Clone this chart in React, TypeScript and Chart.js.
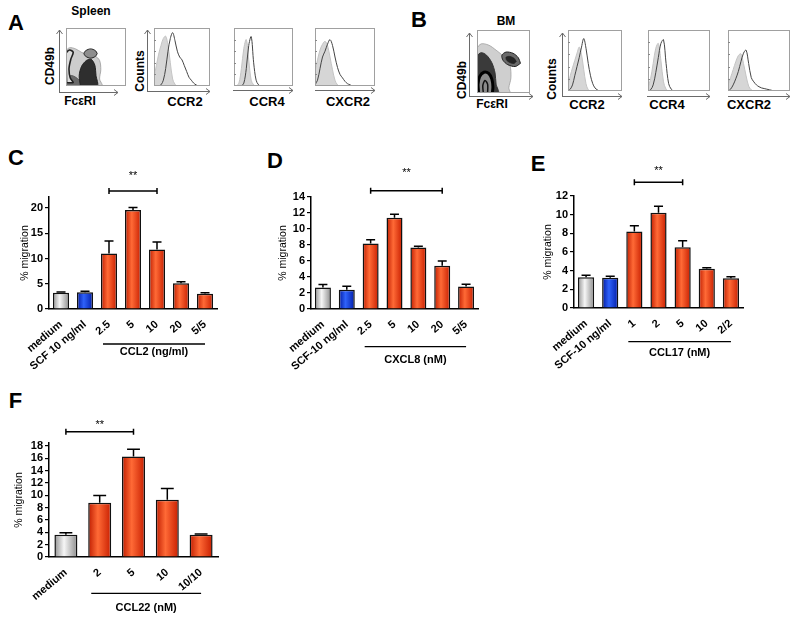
import React, { useEffect, useRef } from 'react';
import { Chart, registerables } from 'chart.js';

Chart.register(...registerables);

const FONT = '"Liberation Sans", Arial, Helvetica, sans-serif';
Chart.defaults.font.family = FONT;
Chart.defaults.color = '#000';

// ---------------- Panel C ----------------
const cLabels = ['medium', 'SCF 10 ng/ml', '2.5', '5', '10', '20', '5/5'];
const cValues = [3.2, 3.3, 11.0, 19.6, 11.8, 5.1, 3.0];
const cErrors = [0.15, 0.2, 2.5, 0.5, 1.5, 0.3, 0.2];
const cKinds = ['grey', 'blue', 'red', 'red', 'red', 'red', 'red'];
const cGroup = 'CCL2 (ng/ml)';

// ---------------- Panel D ----------------
const dLabels = ['medium', 'SCF-10 ng/ml', '2.5', '5', '10', '20', '5/5'];
const dValues = [2.7, 2.4, 8.2, 11.4, 7.7, 5.4, 2.8];
const dErrors = [0.35, 0.45, 0.45, 0.45, 0.15, 0.6, 0.3];
const dKinds = ['grey', 'blue', 'red', 'red', 'red', 'red', 'red'];
const dGroup = 'CXCL8 (nM)';

// ---------------- Panel E ----------------
const eLabels = ['medium', 'SCF-10 ng/ml', '1', '2', '5', '10', '2/2'];
const eValues = [3.3, 3.25, 8.2, 10.2, 6.5, 4.2, 3.2];
const eErrors = [0.2, 0.15, 0.6, 0.7, 0.7, 0.1, 0.15];
const eKinds = ['grey', 'blue', 'red', 'red', 'red', 'red', 'red'];
const eGroup = 'CCL17 (nM)';

// ---------------- Panel F ----------------
const fLabels = ['medium', '2', '5', '10', '10/10'];
const fValues = [3.6, 8.8, 16.3, 9.3, 3.6];
const fErrors = [0.35, 1.2, 1.2, 1.8, 0.15];
const fKinds = ['grey', 'red', 'red', 'red', 'red'];
const fGroup = 'CCL22 (nM)';

const yTitle = '% migration';

// ---------------- Flow histograms (25 bins, fraction of max) ----------------
const aCCR2Iso = [0.15, 0.35, 0.55, 0.7, 0.82, 0.86, 0.7, 0.4, 0.12, 0.03, 0, 0, 0, 0, 0, 0, 0, 0, 0, 0, 0, 0, 0, 0, 0];
const aCCR2Stain = [0, 0, 0, 0.02, 0.1, 0.3, 0.6, 0.82, 0.92, 0.78, 0.6, 0.5, 0.45, 0.35, 0.25, 0.15, 0.1, 0.05, 0.02, 0, 0, 0, 0, 0, 0];
const aCCR4Iso = [0, 0, 0.05, 0.3, 0.65, 0.8, 0.45, 0.1, 0.02, 0, 0, 0, 0, 0, 0, 0, 0, 0, 0, 0, 0, 0, 0, 0, 0];
const aCCR4Stain = [0, 0, 0, 0, 0.05, 0.3, 0.7, 0.85, 0.4, 0.1, 0.02, 0, 0, 0, 0, 0, 0, 0, 0, 0, 0, 0, 0, 0, 0];
const aCXCR2Iso = [0.25, 0.45, 0.62, 0.72, 0.77, 0.7, 0.5, 0.28, 0.1, 0.02, 0, 0, 0, 0, 0, 0, 0, 0, 0, 0, 0, 0, 0, 0, 0];
const aCXCR2Stain = [0.02, 0.1, 0.3, 0.5, 0.6, 0.72, 0.8, 0.7, 0.5, 0.32, 0.2, 0.14, 0.08, 0.04, 0.02, 0, 0, 0, 0, 0, 0, 0, 0, 0, 0];
const bCCR2Iso = [0.1, 0.25, 0.38, 0.5, 0.62, 0.72, 0.6, 0.35, 0.12, 0.02, 0, 0, 0, 0, 0, 0, 0, 0, 0, 0, 0, 0, 0, 0, 0];
const bCCR2Stain = [0, 0.03, 0.1, 0.25, 0.4, 0.55, 0.72, 0.86, 0.7, 0.45, 0.25, 0.12, 0.05, 0.02, 0, 0, 0, 0, 0, 0, 0, 0, 0, 0, 0];
const bCCR4Iso = [0.05, 0.2, 0.45, 0.7, 0.78, 0.5, 0.15, 0.03, 0, 0, 0, 0, 0, 0, 0, 0, 0, 0, 0, 0, 0, 0, 0, 0, 0];
const bCCR4Stain = [0, 0.02, 0.1, 0.3, 0.55, 0.78, 0.84, 0.45, 0.12, 0.03, 0, 0, 0, 0, 0, 0, 0, 0, 0, 0, 0, 0, 0, 0, 0];
const bCXCR2Iso = [0.1, 0.22, 0.35, 0.48, 0.58, 0.61, 0.45, 0.25, 0.08, 0.02, 0, 0, 0, 0, 0, 0, 0, 0, 0, 0, 0, 0, 0, 0, 0];
const bCXCR2Stain = [0, 0.03, 0.1, 0.2, 0.32, 0.48, 0.62, 0.67, 0.45, 0.22, 0.15, 0.1, 0.07, 0.05, 0.04, 0.03, 0.02, 0.01, 0, 0, 0, 0, 0, 0, 0];

// ---------------- Flow density contours (x, y in % of plot) ----------------
const spleenCloud = [[0, 0], [0, 60], [6, 66], [16, 64], [26, 58], [36, 54], [48, 52], [56, 44], [58, 28], [56, 12], [60, 0], [0, 0]];
const spleenLow = [[0, 0], [0, 14], [10, 18], [22, 10], [24, 0], [0, 0]];
const spleenEdge = [[1, 6], [0, 56], [6, 62], [12, 58], [8, 46], [5, 30], [7, 14], [12, 6], [1, 6]];
const spleenBand = [[24, 0], [22, 18], [26, 34], [34, 44], [42, 46], [48, 36], [50, 18], [52, 0], [24, 0]];
const spleenCluster = [[52, 56], [49, 61], [41, 64], [33, 61], [30, 56], [33, 51], [41, 48], [49, 51], [52, 56]];
const bmCloud = [[0, 0], [0, 70], [8, 78], [22, 76], [36, 68], [50, 58], [62, 44], [64, 24], [60, 8], [62, 0], [0, 0]];
const bmDark = [[0, 0], [0, 58], [8, 64], [18, 60], [28, 48], [34, 32], [36, 14], [40, 0], [0, 0]];
const bmRing = [[3, 0], [2, 14], [5, 26], [13, 33], [22, 31], [28, 22], [30, 10], [29, 0]];
const bmCore = [[12, 0], [11, 12], [15, 20], [20, 14], [20, 0]];
const bmCluster = [[82, 47], [78, 56], [68, 63], [55, 65], [47, 60], [49, 52], [58, 45], [72, 42], [82, 47]];
const bmClusterCore = [[74, 50], [70, 55], [62, 58], [55, 57], [56, 52], [63, 48], [70, 47], [74, 50]];

// ---------------- Text labels for flow panels ----------------
const flowText = [
  { t: 'Spleen', x: 91, y: 11, s: 12 },
  { t: 'CD49b', x: 50, y: 66, s: 12, r: true },
  { t: 'FcεRI', x: 80, y: 101, s: 12 },
  { t: 'Counts', x: 140, y: 71, s: 12, r: true },
  { t: 'CCR2', x: 185, y: 101, s: 13 },
  { t: 'CCR4', x: 267, y: 101, s: 13 },
  { t: 'CXCR2', x: 348, y: 101, s: 13 },
  { t: 'BM', x: 506, y: 21, s: 12 },
  { t: 'CD49b', x: 462, y: 80, s: 12, r: true },
  { t: 'FcεRI', x: 492, y: 104, s: 12 },
  { t: 'Counts', x: 552, y: 79, s: 12, r: true },
  { t: 'CCR2', x: 587, y: 104, s: 13 },
  { t: 'CCR4', x: 667, y: 104, s: 13 },
  { t: 'CXCR2', x: 749, y: 104, s: 13 },
];
const panelLetters = [
  { t: 'A', x: 16, y: 22.5 },
  { t: 'B', x: 419, y: 20 },
  { t: 'C', x: 16, y: 158 },
  { t: 'D', x: 275, y: 161 },
  { t: 'E', x: 538, y: 164 },
  { t: 'F', x: 15.5, y: 400.5 },
];

const GRADS: Record<string, string[]> = {
  grey: ['#929292', '#f6f6f6', '#8c8c8c'],
  blue: ['#0018a0', '#2f62fa', '#001ca8'],
  red: ['#bf1c00', '#ff6a36', '#c81e00'],
};

function barFill(kinds: string[], pct: number) {
  return (c: any) => {
    const kind = kinds[c.dataIndex] || 'red';
    const stops = GRADS[kind];
    const chart = c.chart;
    const xs = chart.scales && chart.scales.x;
    if (c.dataIndex === undefined || !chart.chartArea || !xs) return stops[1];
    const cx = xs.getPixelForValue(c.dataIndex);
    const half = (xs.width / chart.data.labels.length) * pct * 0.5;
    const g = chart.ctx.createLinearGradient(cx - half, 0, cx + half, 0);
    g.addColorStop(0, stops[0]);
    g.addColorStop(0.42, stops[1]);
    g.addColorStop(1, stops[2]);
    return g;
  };
}

const errorBarPlugin = {
  id: 'errorBars',
  afterDatasetsDraw(chart: any, _a: any, o: any) {
    const meta = chart.getDatasetMeta(0);
    const ys = chart.scales.y;
    const vals = chart.data.datasets[0].data;
    const ctx = chart.ctx;
    ctx.save();
    ctx.strokeStyle = '#000';
    ctx.lineWidth = 1.5;
    meta.data.forEach((bar: any, i: number) => {
      const top = ys.getPixelForValue(vals[i] + o.errors[i]);
      const cap = bar.width * 0.28;
      ctx.beginPath();
      ctx.moveTo(bar.x, bar.y);
      ctx.lineTo(bar.x, top);
      ctx.moveTo(bar.x - cap, top);
      ctx.lineTo(bar.x + cap, top);
      ctx.stroke();
    });
    ctx.restore();
  },
};

const annotPlugin = {
  id: 'annot',
  afterDraw(chart: any, _a: any, o: any) {
    const ctx = chart.ctx;
    const xs = chart.scales.x;
    const cw = xs.width / chart.data.labels.length;
    ctx.save();
    ctx.strokeStyle = '#000';
    ctx.fillStyle = '#000';
    ctx.lineWidth = 1.5;
    const x1 = xs.getPixelForValue(o.sigFrom);
    const x2 = xs.getPixelForValue(o.sigTo);
    const sy = o.sigY - o.oy;
    ctx.beginPath();
    ctx.moveTo(x1, sy);
    ctx.lineTo(x2, sy);
    ctx.moveTo(x1, sy - 3);
    ctx.lineTo(x1, sy + 3);
    ctx.moveTo(x2, sy - 3);
    ctx.lineTo(x2, sy + 3);
    ctx.stroke();
    ctx.font = `11px ${FONT}`;
    ctx.textAlign = 'center';
    ctx.textBaseline = 'alphabetic';
    ctx.fillText('**', (x1 + x2) / 2, o.starsY - o.oy + 6);
    const g1 = xs.getPixelForValue(o.groupFrom) - 0.25 * cw;
    const g2 = xs.getPixelForValue(o.groupTo);
    const gy = o.groupY - o.oy;
    ctx.lineWidth = 1.3;
    ctx.beginPath();
    ctx.moveTo(g1, gy);
    ctx.lineTo(g2, gy);
    ctx.stroke();
    ctx.font = `bold 11px ${FONT}`;
    ctx.textBaseline = 'middle';
    ctx.fillText(o.groupText, (g1 + g2) / 2, o.groupLabelY - o.oy);
    ctx.restore();
  },
};

type Box = { left: number; top: number; width: number; height: number };
type Area = { left: number; right: number; top: number; bottom: number };

function BarPanel(p: {
  labels: string[]; values: number[]; errors: number[]; kinds: string[];
  yMax: number; yStep: number; box: Box; area: Area; titleX: number; pct: number;
  sig: { from: number; to: number; y: number; starsY: number };
  group: { from: number; to: number; y: number; labelY: number; text: string };
}) {
  const ref = useRef<HTMLCanvasElement>(null);
  useEffect(() => {
    const { box, area } = p;
    const titleSize = 10.5;
    const half = (titleSize * 1.2) / 2;
    const pl = p.titleX - box.left - half;
    const yWidth = area.left - box.left - pl;
    const xHeight = box.top + box.height - area.bottom;
    const chart = new Chart(ref.current as HTMLCanvasElement, {
      type: 'bar',
      data: {
        labels: p.labels,
        datasets: [{
          data: p.values,
          backgroundColor: barFill(p.kinds, p.pct) as any,
          borderColor: '#111',
          borderWidth: 1.5,
          barPercentage: p.pct,
          categoryPercentage: 1,
        }],
      },
      options: {
        animation: false,
        responsive: false,
        maintainAspectRatio: false,
        layout: { padding: { left: pl, right: box.left + box.width - area.right, top: area.top - box.top, bottom: 0 } },
        plugins: {
          legend: { display: false },
          tooltip: { enabled: false },
          errorBars: { errors: p.errors },
          annot: {
            oy: box.top,
            sigFrom: p.sig.from, sigTo: p.sig.to, sigY: p.sig.y, starsY: p.sig.starsY,
            groupFrom: p.group.from, groupTo: p.group.to, groupY: p.group.y, groupLabelY: p.group.labelY, groupText: p.group.text,
          },
        } as any,
        scales: {
          x: {
            grid: { display: false },
            border: { color: '#000', width: 1.5 },
            ticks: { color: '#000', font: { size: 11, weight: 'bold' }, minRotation: 40, maxRotation: 40, autoSkip: false, padding: 1 },
            afterFit: (s: any) => { s.height = xHeight; },
          },
          y: {
            min: 0,
            max: p.yMax,
            grid: { drawOnChartArea: false, drawTicks: true, tickLength: 4, color: '#000', lineWidth: 1.2 },
            border: { color: '#000', width: 1.5 },
            ticks: { stepSize: p.yStep, includeBounds: false, autoSkip: false, color: '#000', font: { size: 11, weight: 'bold' }, padding: 2 },
            title: { display: true, text: yTitle, color: '#000', font: { size: titleSize }, padding: 0 },
            afterFit: (s: any) => { s.width = yWidth; },
          },
        },
      } as any,
      plugins: [errorBarPlugin, annotPlugin],
    });
    return () => chart.destroy();
  }, []);
  const { box } = p;
  return (
    <canvas ref={ref} width={box.width} height={box.height}
      style={{ position: 'absolute', left: box.left, top: box.top, width: box.width, height: box.height }} />
  );
}

const framePlugin = {
  id: 'frame',
  afterDraw(chart: any, _a: any, o: any) {
    const { ctx, chartArea: a } = chart;
    ctx.save();
    ctx.strokeStyle = '#a0a0a0';
    ctx.lineWidth = 1;
    ctx.strokeRect(a.left + 0.5, a.top + 0.5, a.right - a.left - 1, a.bottom - a.top - 1);
    if (o.ticks) {
      ctx.strokeStyle = '#888';
      for (let k = 1; k < 5; k++) {
        const y = Math.round(a.bottom - (a.bottom - a.top) * k / 5) + 0.5;
        ctx.beginPath();
        ctx.moveTo(a.left, y);
        ctx.lineTo(a.left + 2, y);
        ctx.stroke();
      }
    }
    ctx.strokeStyle = '#6a6a6a';
    ctx.lineWidth = 1;
    const ay = o.xArrowY - o.oy + 0.5;
    const ax1 = o.xArrowX1 - o.ox;
    const ax2 = o.xArrowX2 - o.ox;
    ctx.beginPath();
    ctx.moveTo(ax1, ay);
    ctx.lineTo(ax2, ay);
    ctx.moveTo(ax2 - 4, ay - 3);
    ctx.lineTo(ax2, ay);
    ctx.lineTo(ax2 - 4, ay + 3);
    ctx.stroke();
    if (o.yArrow) {
      const yx = o.yArrowX - o.ox + 0.5;
      const y1 = o.yArrowY1 - o.oy;
      const y2 = o.yArrowY2 - o.oy;
      ctx.beginPath();
      ctx.moveTo(yx, y1);
      ctx.lineTo(yx, y2);
      ctx.moveTo(yx - 3, y2 + 4);
      ctx.lineTo(yx, y2);
      ctx.lineTo(yx + 3, y2 + 4);
      ctx.stroke();
    }
    ctx.restore();
  },
};

type Frame = { l: number; t: number; r: number; b: number };
type Arrows = { xy: number; x1: number; x2: number; yx?: number; y1?: number; y2?: number };

function toPts(arr: number[][]) {
  return arr.map(([x, y]) => ({ x, y }));
}

function MiniPlot(p: { frame: Frame; arrows: Arrows; hist?: { iso: number[]; stain: number[] }; density?: any[] }) {
  const ref = useRef<HTMLCanvasElement>(null);
  const { frame, arrows } = p;
  const left = Math.min(frame.l, arrows.x1, arrows.yx ?? frame.l) - 6;
  const top = Math.min(frame.t, arrows.y2 ?? frame.t) - 6;
  const right = Math.max(frame.r, arrows.x2) + 6;
  const bottom = Math.max(frame.b, arrows.xy, arrows.y1 ?? 0) + 6;
  const w = right - left;
  const h = bottom - top;
  useEffect(() => {
    let datasets: any[] = [];
    let xmax = 100;
    let ymax = 100;
    if (p.hist) {
      xmax = p.hist.iso.length - 1;
      ymax = 1;
      datasets = [
        { data: p.hist.stain.map((v, i) => ({ x: i, y: v })), borderColor: '#444', borderWidth: 1, fill: false, pointRadius: 0, tension: 0.35, order: 0, showLine: true },
        { data: p.hist.iso.map((v, i) => ({ x: i, y: v })), borderColor: '#c4c4c4', backgroundColor: '#d6d6d6', borderWidth: 1, fill: 'origin', pointRadius: 0, tension: 0.35, order: 1, showLine: true },
      ];
    } else if (p.density) {
      datasets = p.density.map((d, i) => ({
        data: toPts(d.pts), showLine: true, pointRadius: 0, tension: 0.3,
        borderColor: d.line, borderWidth: d.lw, backgroundColor: d.fill || 'transparent',
        fill: d.fill ? 'shape' : false, order: p.density!.length - i,
      }));
    }
    const chart = new Chart(ref.current as HTMLCanvasElement, {
      type: 'scatter',
      data: { datasets },
      options: {
        animation: false,
        responsive: false,
        maintainAspectRatio: false,
        layout: { padding: { left: frame.l - left, top: frame.t - top, right: right - frame.r, bottom: bottom - frame.b } },
        plugins: {
          legend: { display: false },
          tooltip: { enabled: false },
          frame: {
            ox: left, oy: top, ticks: !!p.hist,
            xArrowY: arrows.xy, xArrowX1: arrows.x1, xArrowX2: arrows.x2,
            yArrow: arrows.yx !== undefined, yArrowX: arrows.yx, yArrowY1: arrows.y1, yArrowY2: arrows.y2,
          },
        } as any,
        scales: {
          x: { type: 'linear', min: 0, max: xmax, display: false },
          y: { type: 'linear', min: 0, max: ymax, display: false },
        },
      } as any,
      plugins: [framePlugin],
    });
    return () => chart.destroy();
  }, []);
  return (
    <canvas ref={ref} width={w} height={h}
      style={{ position: 'absolute', left, top, width: w, height: h }} />
  );
}

function Txt(p: { t: string; x: number; y: number; s: number; r?: boolean }) {
  return (
    <div style={{
      position: 'absolute', left: p.x, top: p.y, fontFamily: FONT, fontSize: p.s, fontWeight: 'bold',
      lineHeight: 1, whiteSpace: 'nowrap', color: '#000',
      transform: `translate(-50%, -50%)${p.r ? ' rotate(-90deg)' : ''}`,
    }}>{p.t}</div>
  );
}

const spleenShapes = [
  { pts: spleenCloud, fill: '#cdcdcd', line: '#9a9a9a', lw: 0.8 },
  { pts: spleenLow, fill: '#6a6a6a', line: '#555', lw: 0.8 },
  { pts: spleenEdge, fill: '#dcdcdc', line: '#222', lw: 1.6 },
  { pts: spleenBand, fill: '#2e2e2e', line: '#222', lw: 1 },
  { pts: spleenCluster, fill: '#8e8e8e', line: '#222', lw: 1 },
];
const bmShapes = [
  { pts: bmCloud, fill: '#cfcfcf', line: '#a0a0a0', lw: 0.8 },
  { pts: bmDark, fill: '#3a3a3a', line: '#333', lw: 1 },
  { pts: bmRing, fill: '#8a8a8a', line: '#000', lw: 3 },
  { pts: bmCore, fill: null, line: '#111', lw: 1.5 },
  { pts: bmCluster, fill: '#6a6a6a', line: '#222', lw: 1 },
  { pts: bmClusterCore, fill: '#252525', line: '#222', lw: 0.8 },
];

export default function App() {
  return (
    <div style={{ position: 'absolute', left: 0, top: 0, width: 800, height: 620, background: '#fff', overflow: 'hidden' }}>
      {panelLetters.map((l, i) => <Txt key={'L' + i} t={l.t} x={l.x} y={l.y} s={22} />)}
      {flowText.map((l, i) => <Txt key={'T' + i} t={l.t} x={l.x} y={l.y} s={l.s} r={l.r} />)}

      <MiniPlot frame={{ l: 66, t: 28, r: 126, b: 86 }} arrows={{ xy: 92, x1: 59, x2: 118, yx: 59, y1: 92, y2: 30 }} density={spleenShapes} />
      <MiniPlot frame={{ l: 154, t: 28, r: 210, b: 86 }} arrows={{ xy: 91, x1: 147, x2: 210, yx: 147, y1: 91, y2: 30 }} hist={{ iso: aCCR2Iso, stain: aCCR2Stain }} />
      <MiniPlot frame={{ l: 234, t: 28, r: 293, b: 86 }} arrows={{ xy: 90, x1: 233, x2: 293 }} hist={{ iso: aCCR4Iso, stain: aCCR4Stain }} />
      <MiniPlot frame={{ l: 315, t: 28, r: 375, b: 86 }} arrows={{ xy: 90, x1: 315, x2: 375 }} hist={{ iso: aCXCR2Iso, stain: aCXCR2Stain }} />

      <MiniPlot frame={{ l: 477, t: 30, r: 530, b: 93 }} arrows={{ xy: 96, x1: 469, x2: 533, yx: 469, y1: 96, y2: 33 }} density={bmShapes} />
      <MiniPlot frame={{ l: 568, t: 30, r: 622, b: 91 }} arrows={{ xy: 96, x1: 562, x2: 622, yx: 562, y1: 96, y2: 33 }} hist={{ iso: bCCR2Iso, stain: bCCR2Stain }} />
      <MiniPlot frame={{ l: 648, t: 30, r: 710, b: 91 }} arrows={{ xy: 96, x1: 647, x2: 710 }} hist={{ iso: bCCR4Iso, stain: bCCR4Stain }} />
      <MiniPlot frame={{ l: 728, t: 30, r: 790, b: 91 }} arrows={{ xy: 96, x1: 728, x2: 790 }} hist={{ iso: bCXCR2Iso, stain: bCXCR2Stain }} />

      <BarPanel labels={cLabels} values={cValues} errors={cErrors} kinds={cKinds} yMax={22.2} yStep={5} pct={0.67}
        box={{ left: 0, top: 140, width: 232, height: 240 }} area={{ left: 49, right: 217, top: 197, bottom: 309 }} titleX={25}
        sig={{ from: 2, to: 4, y: 191, starsY: 173 }} group={{ from: 2, to: 6, y: 344, labelY: 352, text: cGroup }} />
      <BarPanel labels={dLabels} values={dValues} errors={dErrors} kinds={dKinds} yMax={14} yStep={2} pct={0.67}
        box={{ left: 262, top: 140, width: 230, height: 240 }} area={{ left: 311, right: 478, top: 197, bottom: 309 }} titleX={283}
        sig={{ from: 2, to: 5, y: 190.7, starsY: 170 }} group={{ from: 2, to: 6, y: 346.7, labelY: 360, text: dGroup }} />
      <BarPanel labels={eLabels} values={eValues} errors={eErrors} kinds={eKinds} yMax={12} yStep={2} pct={0.67}
        box={{ left: 522, top: 140, width: 240, height: 240 }} area={{ left: 574, right: 743, top: 196, bottom: 308 }} titleX={548}
        sig={{ from: 2, to: 4, y: 182.3, starsY: 168 }} group={{ from: 2, to: 6, y: 341.7, labelY: 353.3, text: eGroup }} />
      <BarPanel labels={fLabels} values={fValues} errors={fErrors} kinds={fKinds} yMax={18.5} yStep={2} pct={0.68}
        box={{ left: 0, top: 380, width: 232, height: 240 }} area={{ left: 49, right: 218, top: 443, bottom: 557 }} titleX={19}
        sig={{ from: 0, to: 2, y: 431.7, starsY: 421.7 }} group={{ from: 1, to: 4, y: 593.3, labelY: 608, text: fGroup }} />
    </div>
  );
}
